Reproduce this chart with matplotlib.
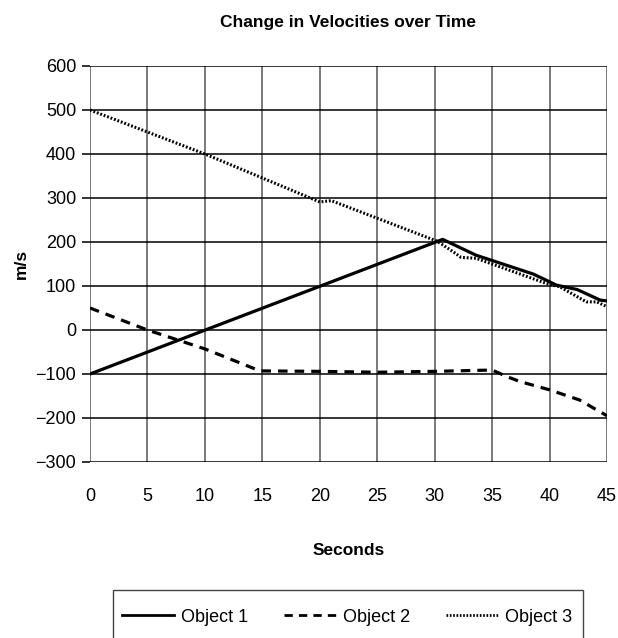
import matplotlib
matplotlib.use("Agg")
import matplotlib.pyplot as plt
from matplotlib.patches import Rectangle

plt.rcParams['font.family'] = ['Liberation Sans', 'DejaVu Sans']

# Data
t1 = [0, 30.7, 33.6, 38.6, 40.6, 42.4, 44.4, 45]
v1 = [-100, 206, 170, 127, 102, 92, 68, 66]

t2 = [0, 5, 10, 14.8, 20, 25, 30, 35, 36.3, 37.4, 40, 42.6, 45]
v2 = [50, 0, -43, -93, -94, -96, -94, -91, -106, -117, -136, -159, -195]

t3 = [0, 10, 20, 21, 30.2, 31.6, 32.3, 33.6, 39.7, 40.9, 43.2, 44.1, 45]
v3 = [500, 400, 291, 294, 202, 178, 165, 163, 106, 98, 64, 64, 53]

xticks = list(range(0, 50, 5))
yticks = list(range(-300, 700, 100))
labels = ["Object 1", "Object 2", "Object 3"]

W, H = 618, 638
fig = plt.figure(figsize=(W/100, H/100), dpi=100)
ax = fig.add_axes([90/W, 1-462/H, (607-90)/W, (462-66)/H])

ax.set_xlim(0, 45)
ax.set_ylim(-300, 600)
ax.set_xticks(xticks)
ax.set_yticks(yticks)

for x in xticks:
    ax.axvline(x, color="#555555", lw=1.1, zorder=1)
for y in yticks:
    ax.axhline(y, color="black", lw=1.1, zorder=1)

l1, = ax.plot(t1, v1, color="black", lw=2.3, solid_joinstyle="round", zorder=3, label=labels[0])
l2, = ax.plot(t2, v2, color="black", lw=2.3, linestyle=(0, (3, 2.2)), zorder=3, label=labels[1])
l3, = ax.plot(t3, v3, color="black", lw=2.2, linestyle=(0, (0.6, 0.6)), zorder=3, label=labels[2])

for s in ax.spines.values():
    s.set_visible(False)

ax.tick_params(axis="y", length=6, width=1.1, color="black", labelsize=13, pad=4)
ax.tick_params(axis="x", length=0, labelsize=13, pad=19)

ax.set_title("Change in Velocities over Time", fontsize=12.5, fontweight="bold", pad=28)
ax.set_xlabel("Seconds", fontsize=12.5, fontweight="bold", labelpad=27)
ax.set_ylabel("m/s", fontsize=12.5, fontweight="bold", labelpad=5)

# legend frame (bottom runs off the figure, as in the reference)
frame = Rectangle((113/W, 1-700/H), (583-113)/W, (700-590)/H,
                  transform=fig.transFigure, fill=False,
                  edgecolor="#444444", lw=1.0)
fig.add_artist(frame)

leg = fig.legend([l1, l2, l3], labels, loc="center left",
                 bbox_to_anchor=(122/W, 1-617/H), ncol=3,
                 frameon=False, fontsize=13, handlelength=2.9,
                 handletextpad=0.35, columnspacing=2.0,
                 borderpad=0, borderaxespad=0)
for lh in leg.get_lines():
    lh.set_linewidth(2.0)

fig.savefig("out.png", dpi=100)
